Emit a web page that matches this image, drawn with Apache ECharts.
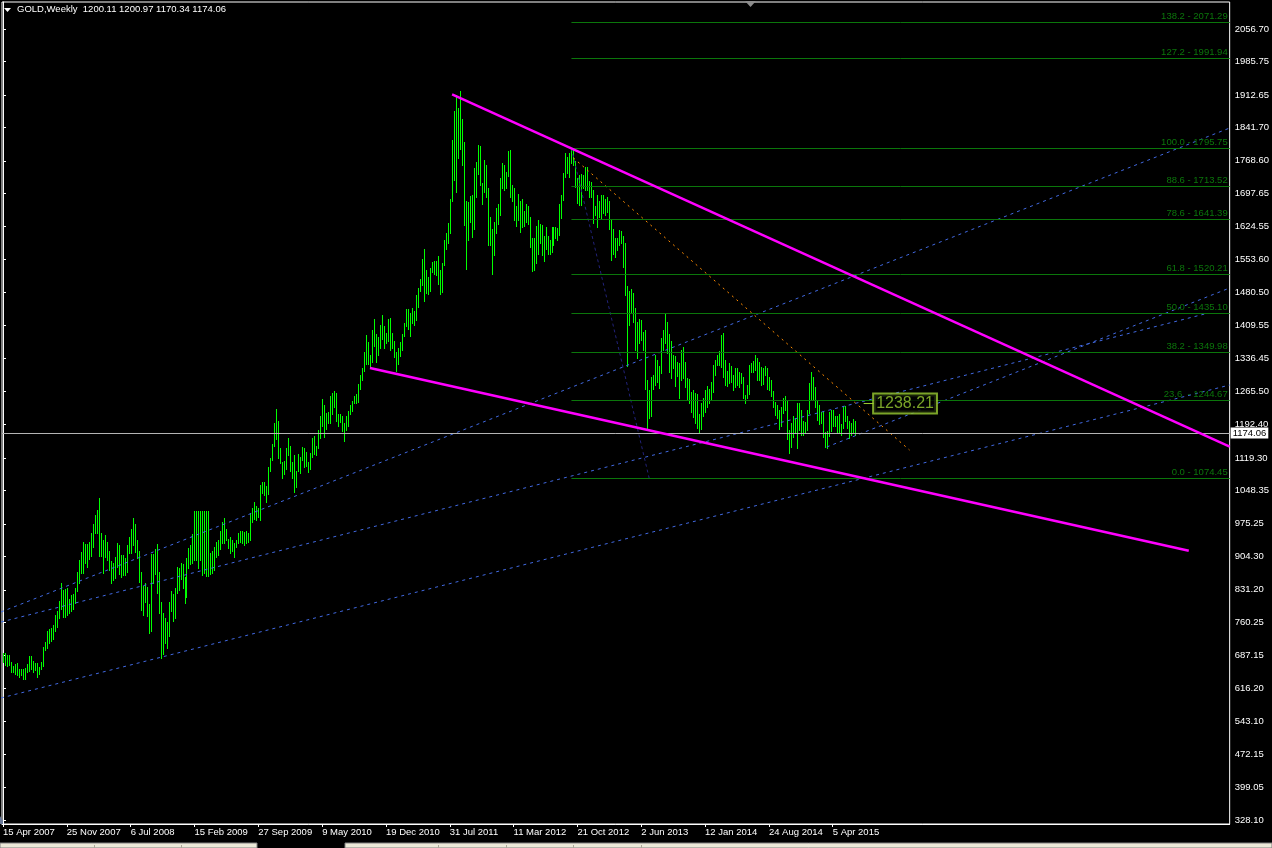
<!DOCTYPE html>
<html><head><meta charset="utf-8">
<script src="https://cdn.jsdelivr.net/npm/echarts@6/dist/echarts.min.js"></script>
<style>html,body{margin:0;padding:0;background:#000;}#c{width:1272px;height:848px;}</style>
</head><body><div id="c"></div>
<script>
// ---- weekly bars, index 0 = week of 15 Apr 2007 ----
const weekLows = [
674,667,665,667,651,651,648,645,641,646, 636,636,652,654,657,652,656,640,648,657,
665,700,703,714,719,724,742,750,770,790, 772,771,776,780,785,790,803,828,845,867,
868,890,880,898,905,925,955,955,905,905, 867,902,896,874,845,852,858,880,866,860,
864,863,871,912,912,930,914,900,849,786, 775,805,773,736,740,845,866,825,780,681,
690,715,705,730,785,762,770,825,830,855, 835,803,815,878,888,890,896,896,878,896,
863,867,861,861,865,867,874,903,907,920, 933,933,940,922,911,917,902,925,933,936,
933,929,933,936,940,980,985,984,991,984, 1042,1038,1024,1040,1090,1115,1145,1160,1120,1108,
1075,1085,1095,1125,1090,1075,1045,1055,1090,1087, 1115,1100,1102,1088,1095,1122,1128,1125,1140,1163,
1190,1165,1183,1196,1195,1215,1231,1200,1190,1198, 1178,1157,1180,1190,1215,1222,1240,1240,1242,1270,
1290,1310,1325,1325,1316,1328,1365,1330,1345,1360, 1380,1360,1370,1375,1355,1360,1340,1310,1325,1342,
1355,1385,1407,1400,1385,1415,1410,1420,1450,1485, 1498,1462,1480,1478,1485,1525,1522,1518,1500,1477,
1482,1540,1575,1590,1610,1680,1727,1701,1774,1795, 1759,1628,1532,1596,1636,1603,1620,1690,1740,1715,
1675,1700,1690,1585,1585,1521,1562,1610,1630,1650, 1710,1705,1710,1735,1690,1680,1640,1627,1640,1612,
1625,1627,1635,1630,1580,1527,1530,1545,1565,1590, 1562,1550,1575,1565,1565,1570,1585,1600,1595,1607,
1643,1683,1734,1741,1734,1763,1760,1712,1676,1672, 1672,1710,1705,1705,1690,1690,1632,1650,1625,1645,
1643,1655,1650,1657,1620,1552,1565,1559,1573,1585, 1590,1537,1476,1321,1410,1439,1417,1355,1337,1370,
1377,1355,1270,1180,1207,1210,1271,1279,1285,1272, 1305,1355,1370,1348,1308,1295,1315,1277,1298,1251,
1290,1293,1275,1246,1239,1220,1209,1195,1184,1177, 1182,1212,1220,1231,1239,1246,1264,1300,1322,1322,
1319,1297,1279,1277,1282,1285,1268,1275,1279,1275, 1283,1250,1240,1250,1260,1308,1308,1311,1290,1290,
1279,1280,1300,1271,1268,1255,1230,1213,1206,1183, 1190,1218,1225,1160,1131,1144,1166,1173,1142,1180,
1169,1170,1175,1180,1217,1246,1246,1231,1202,1194, 1196,1166,1144,1142,1168,1178,1190,1190,1174,1175,
1170,1184,1200,1185,1162,1170,1175,1170.34
];
const weekHighs = [
692,692,689,689,674,665,670,672,659,659, 657,661,670,687,687,675,672,672,663,674,
707,718,740,745,748,754,776,785,807,845, 831,833,836,812,820,823,836,869,896,914,
936,932,931,935,955,976,995,1005,1032,955, 940,951,936,917,893,889,903,933,929,907,
907,900,929,947,965,988,975,940,915,870, 840,845,838,800,910,910,920,932,870,805,
780,770,760,805,828,822,835,880,878,890, 888,860,900,922,928,952,1003,1003,1003,1003,
1003,1003,1003,1003,912,917,925,936,940,960, 980,987,965,943,946,940,934,940,956,960,
960,958,960,955,998,1009,1022,1014,1009,1060, 1067,1067,1058,1100,1120,1150,1195,1227,1200,1142,
1110,1112,1140,1162,1145,1110,1125,1090,1128,1122, 1143,1140,1132,1110,1130,1162,1168,1145,1180,1210,
1249,1235,1218,1220,1254,1261,1265,1262,1215,1215, 1210,1195,1210,1222,1235,1243,1255,1259,1280,1300,
1315,1350,1388,1372,1345,1398,1424,1390,1383,1410, 1432,1408,1392,1422,1425,1392,1375,1350,1360,1372,
1390,1415,1445,1445,1435,1448,1440,1476,1490,1510, 1555,1575,1530,1515,1535,1548,1550,1550,1560,1530,
1545,1595,1610,1632,1686,1815,1877,1912,1885,1921, 1861,1810,1680,1679,1692,1694,1752,1765,1803,1800,
1720,1770,1760,1710,1645,1620,1635,1665,1675,1730, 1764,1760,1745,1790,1792,1715,1710,1670,1697,1680,
1685,1660,1675,1670,1645,1600,1600,1627,1640,1630, 1628,1605,1625,1605,1595,1625,1625,1625,1622,1675,
1693,1741,1785,1778,1785,1796,1792,1768,1732,1738, 1740,1737,1755,1755,1725,1722,1705,1670,1693,1680,
1695,1695,1685,1690,1680,1640,1620,1600,1600,1617, 1615,1605,1590,1494,1485,1488,1479,1446,1417,1424,
1421,1395,1398,1290,1268,1297,1300,1344,1334,1320, 1381,1399,1434,1417,1390,1375,1345,1341,1330,1326,
1355,1362,1330,1295,1292,1263,1268,1262,1260,1215, 1239,1250,1268,1276,1271,1286,1322,1333,1344,1352,
1388,1392,1333,1310,1326,1320,1300,1315,1315,1308, 1305,1296,1257,1278,1322,1326,1332,1345,1337,1330,
1319,1315,1320,1315,1297,1290,1265,1242,1236,1225, 1230,1250,1255,1245,1180,1195,1210,1206,1239,1239,
1225,1200,1197,1225,1282,1308,1297,1275,1246,1235, 1220,1222,1175,1179,1220,1225,1224,1210,1210,1215,
1193,1232,1232,1212,1200,1195,1205,1200.97
];
const lastBar = { open: 1200.11, high: 1200.97, low: 1170.34, close: 1174.06 };

// ---- axis ticks / labels ----
const dateTickIndex = [0,32,64,96,128,160,192,224,256,288,320,352,384,416];
const dateTickLabels = ['15 Apr 2007','25 Nov 2007','6 Jul 2008','15 Feb 2009','27 Sep 2009','9 May 2010',
  '19 Dec 2010','31 Jul 2011','11 Mar 2012','21 Oct 2012','2 Jun 2013','12 Jan 2014','24 Aug 2014','5 Apr 2015'];
const priceTicks = [328.10,399.05,472.15,543.10,616.20,687.15,760.25,831.20,904.30,975.25,1048.35,1119.30,
  1192.40,1265.50,1336.45,1409.55,1480.50,1553.60,1624.55,1697.65,1768.60,1841.70,1912.65,1985.75,2056.70];

// ---- Fibonacci retracement ----
const fibLabels = ['0.0 - 1074.45','23.6  - 1244.67','38.2 - 1349.98','50.0 - 1435.10','61.8 - 1520.21',
  '78.6 - 1641.39','88.6 - 1713.52','100.0 - 1795.75','127.2 - 1991.94','138.2 - 2071.29'];
const fibPrices = [1074.45,1244.67,1349.98,1435.10,1520.21,1641.39,1713.52,1795.75,1991.94,2071.29];
const fibStartIndex = 285;
const fibBaseLine = [[285,1795.75],[324,1074.45]];

// ---- drawn trend lines (week index, price) ----
const magentaLines = [
  [[225.15,1914.0],[615,1144.1]],
  [[184,1315.8],[594.5,916.6]]
];
const blueLines = [
  [[-1,782.6],[615,1840.3]],
  [[-1,760.7],[602.5,1433.9]],
  [[413,1143.2],[615,1490.7]],
  [[-1,594.7],[615,1278.7]]
];
const orangeLine = [[286,1774.8],[454.5,1136.6]];
const priceLabel = { value: 1238.21, fromIndex: 431.5, index: 436.5 };

const X_MIN = -0.5, X_MAX = 615, Y_MIN = 319.3, Y_MAX = 2115.7;
const FONT = 'Liberation Sans, Arial, sans-serif';
const FIB_COLOR = '#0b760b';
const BAR_COLOR = '#00ff00';

const bars = weekLows.map((lo, i) => [i, lo, weekHighs[i]]);

const fibMark = fibLabels.map((t, k) => [
  { name: t, coord: [fibStartIndex, fibPrices[k]] },
  { coord: [X_MAX, fibPrices[k]] }
]);
fibMark.push([
  { name: lastBar.close.toFixed(2), coord: [X_MIN, lastBar.close],
    lineStyle: { color: '#b4b4b4', width: 1, type: 'solid' },
    label: { position: 'end', distance: 1, color: '#000', backgroundColor: '#fff',
             padding: [1, 2, 0, 2], fontSize: 9.5, fontFamily: FONT } },
  { coord: [X_MAX, lastBar.close] }
]);

function lineSeries(pts, color, width, type, z) {
  return { type: 'line', data: pts, symbol: 'none', silent: true, z: z || 4,
    lineStyle: { color: color, width: width, type: type }, animation: false,
    emphasis: { disabled: true } };
}

const series = [
  {
    type: 'custom', data: bars, z: 2, clip: true, silent: true,
    itemStyle: { color: BAR_COLOR },
    emphasis: { disabled: true },
    encode: { x: 0, y: [1, 2] },
    renderItem: function (params, api) {
      const i = api.value(0);
      const lo = api.coord([i, api.value(1)]);
      const hi = api.coord([i, api.value(2)]);
      const x = Math.round(lo[0]) + 0.5;
      const y1 = Math.round(hi[1]), y2 = Math.round(lo[1]) + 1;
      return { type: 'line', silent: true,
               shape: { x1: x, y1: y1, x2: x, y2: Math.max(y1 + 1, y2) },
               style: { stroke: BAR_COLOR, lineWidth: 1, fill: null } };
    },
    markLine: {
      silent: true, symbol: ['none', 'none'], animation: false, precision: 2,
      lineStyle: { color: FIB_COLOR, width: 1, type: 'solid' },
      label: { show: true, position: 'insideEndTop', formatter: '{b}', color: FIB_COLOR,
               fontSize: 9.5, fontFamily: FONT, distance: [2, 1] },
      emphasis: { disabled: true },
      data: fibMark
    }
  },
  lineSeries(fibBaseLine, '#22227a', 1, [3, 3], 3),
  lineSeries(orangeLine, '#ff8c00', 1, [2, 4], 4),
];
blueLines.forEach(l => series.push(lineSeries(l, '#4169e1', 1, [3, 4], 4)));
magentaLines.forEach(l => series.push(lineSeries(l, '#ff00ff', 2.5, 'solid', 5)));
series.push(lineSeries([[priceLabel.fromIndex, priceLabel.value],[priceLabel.index, priceLabel.value]], '#9acd32', 1, 'solid', 6));
series.push({
  type: 'scatter', data: [[priceLabel.index, priceLabel.value]], symbolSize: 1, z: 7, silent: true,
  itemStyle: { color: 'rgba(0,0,0,0)' }, animation: false,
  label: { show: true, position: 'right', distance: 0, formatter: priceLabel.value.toFixed(2),
           color: '#9acd32', fontSize: 16, fontFamily: FONT, backgroundColor: '#000',
           borderColor: '#9acd32', borderWidth: 2, padding: [1, 2, 0, 2], lineHeight: 17 }
});

const chart = echarts.init(document.getElementById('c'), null, { renderer: 'canvas' });
chart.setOption({
  backgroundColor: '#000',
  animation: false,
  grid: { left: 1, top: 2, right: 40, bottom: 24, show: true, borderColor: '#fff', borderWidth: 1, backgroundColor: 'transparent' },
  xAxis: {
    type: 'value', min: X_MIN, max: X_MAX,
    axisLine: { show: true, lineStyle: { color: '#fff', width: 1 } },
    axisTick: { show: true, customValues: dateTickIndex, length: 3, lineStyle: { color: '#fff' } },
    axisLabel: { show: true, customValues: dateTickIndex, align: 'left', margin: 3, color: '#fff',
                 fontSize: 9.5, fontFamily: FONT,
                 formatter: v => dateTickLabels[dateTickIndex.indexOf(Math.round(v))] || '' },
    splitLine: { show: false }
  },
  yAxis: {
    type: 'value', position: 'right', min: Y_MIN, max: Y_MAX,
    axisLine: { show: true, lineStyle: { color: '#fff', width: 1 } },
    axisTick: { show: true, customValues: priceTicks, length: 3, lineStyle: { color: '#fff' } },
    axisLabel: { show: true, customValues: priceTicks, margin: 5, color: '#fff', fontSize: 9.5, fontFamily: FONT,
                 formatter: v => v.toFixed(2) },
    splitLine: { show: false }
  },
  graphic: [
    { type: 'polygon', shape: { points: [[4, 8], [11, 8], [7.5, 12]] }, style: { fill: '#fff' } },
    { type: 'text', left: 17, top: 4, style: {
        text: 'GOLD,Weekly  ' + [lastBar.open, lastBar.high, lastBar.low, lastBar.close].map(v => v.toFixed(2)).join(' '),
        fill: '#fff', fontSize: 9.5, fontFamily: FONT } },
    { type: 'polygon', shape: { points: [[745, 1], [756, 1], [750.5, 7]] }, style: { fill: '#8c8c8c' } },
    { type: 'polygon', shape: { points: [[0, 816], [0, 824], [5, 824]] }, style: { fill: '#6a7a9a' } },
    { type: 'rect', shape: { x: 0, y: 843, width: 257, height: 5 }, style: { fill: '#ece9d8', stroke: '#808080', lineWidth: 1 } },
    { type: 'rect', shape: { x: 345, y: 843, width: 927, height: 5 }, style: { fill: '#ece9d8', stroke: '#808080', lineWidth: 1 } },
    { type: 'line', shape: { x1: 94.5, y1: 845, x2: 94.5, y2: 848 }, style: { stroke: '#aca899' } },
    { type: 'line', shape: { x1: 181.5, y1: 845, x2: 181.5, y2: 848 }, style: { stroke: '#aca899' } },
    { type: 'line', shape: { x1: 438.5, y1: 845, x2: 438.5, y2: 848 }, style: { stroke: '#aca899' } },
    { type: 'line', shape: { x1: 506.5, y1: 845, x2: 506.5, y2: 848 }, style: { stroke: '#aca899' } },
    { type: 'line', shape: { x1: 573.5, y1: 845, x2: 573.5, y2: 848 }, style: { stroke: '#aca899' } },
    { type: 'line', shape: { x1: 641.5, y1: 845, x2: 641.5, y2: 848 }, style: { stroke: '#aca899' } }
  ],
  series: series
});
</script>
</body></html>
